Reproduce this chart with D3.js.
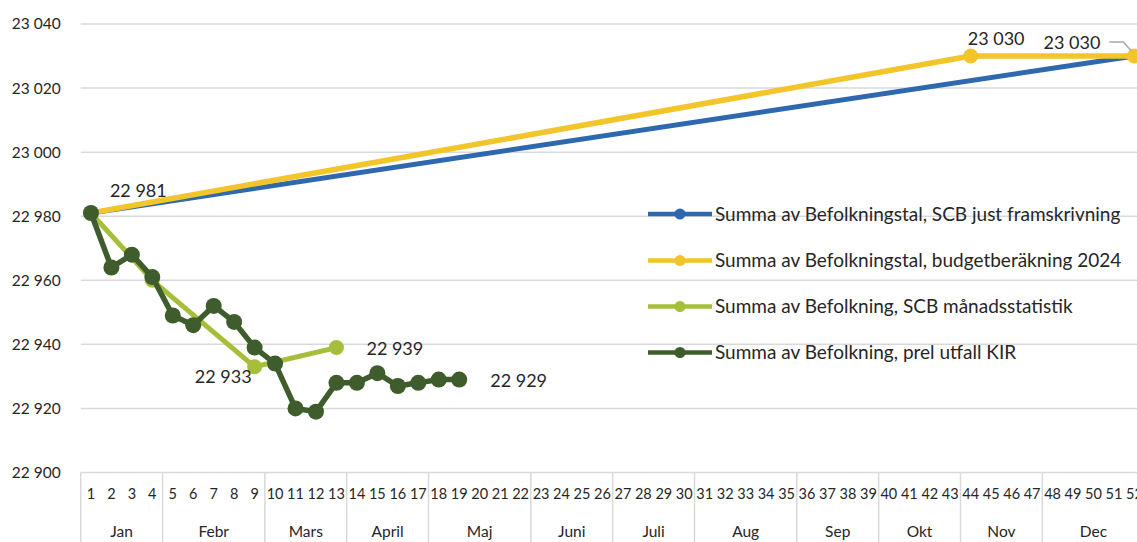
<!DOCTYPE html>
<html>
<head>
<meta charset="utf-8">
<script src="https://cdn.jsdelivr.net/npm/d3@7"></script>
<style>
  html, body { margin: 0; padding: 0; background: #fff; }
  svg { display: block; font-family: Lato, "Open Sans", sans-serif; }
</style>
</head>
<body>
<svg id="chart" width="1137" height="542"></svg>
<script>
// Week categories (1–52) grouped by month
const weeks = [1,2,3,4,5,6,7,8,9,10,11,12,13,14,15,16,17,18,19,20,21,22,23,24,25,26,
               27,28,29,30,31,32,33,34,35,36,37,38,39,40,41,42,43,44,45,46,47,48,49,50,51,52];
const monthNames = ["Jan","Febr","Mars","April","Maj","Juni","Juli","Aug","Sep","Okt","Nov","Dec"];
const monthFirstWeek = [1,5,10,14,18,23,27,31,36,40,44,48];
const monthLastWeek  = [4,9,13,17,22,26,30,35,39,43,47,52];

const yTicks = [22900,22920,22940,22960,22980,23000,23020,23040];

// Series
const seriesNames = [
  "Summa av Befolkningstal, SCB just framskrivning",
  "Summa av Befolkningstal, budgetberäkning 2024",
  "Summa av Befolkning, SCB månadsstatistik",
  "Summa av Befolkning, prel utfall KIR"
];
const seriesColors = ["#2E69B0", "#F2C52A", "#A5BF3A", "#3E5C2C"];

const scbProjWeeks  = [1, 52];
const scbProjValues = [22981, 23030];

const budgetWeeks  = [1, 44, 52];
const budgetValues = [22981, 23030, 23030];

const scbMonthWeeks  = [1, 4, 9, 13];
const scbMonthValues = [22981, 22960, 22933, 22939];

const kirWeeks  = [1,2,3,4,5,6,7,8,9,10,11,12,13,14,15,16,17,18,19];
const kirValues = [22981,22964,22968,22961,22949,22946,22952,22947,22939,22934,
                   22920,22919,22928,22928,22931,22927,22928,22929,22929];

const svg = d3.select("#chart");
const W = 1137, H = 542;

const left = 80.7, bandW = 20.46;
const x = d3.scaleBand().domain(weeks).range([left, left + bandW * weeks.length]).padding(0);
const cx = w => x(w) + x.bandwidth() / 2;
const y = d3.scaleLinear().domain([22900, 23040]).range([472.5, 24]);

const gridColor = "#D9D9D9";
const textColor = "#262626";

// Horizontal gridlines
svg.append("g")
  .selectAll("line")
  .data(yTicks.filter(v => v !== 22900))
  .join("line")
  .attr("x1", left).attr("x2", W)
  .attr("y1", d => y(d)).attr("y2", d => y(d))
  .attr("stroke", gridColor).attr("stroke-width", 1.5);

// Y axis labels
const yAxis = svg.append("g")
  .attr("transform", `translate(${left},0)`)
  .call(d3.axisLeft(y).tickValues(yTicks).tickSize(0).tickPadding(20)
        .tickFormat(d => d3.format(",")(d).replace(",", " ")));
yAxis.select(".domain").remove();
yAxis.selectAll("text")
  .attr("font-family", "Lato, sans-serif")
  .attr("font-size", 15.5).attr("fill", textColor);

// Category box: top line and month separators
const axisY = y(22900);
svg.append("line")
  .attr("x1", left).attr("x2", W)
  .attr("y1", axisY).attr("y2", axisY)
  .attr("stroke", gridColor).attr("stroke-width", 1.5);

svg.append("g")
  .selectAll("line")
  .data(monthFirstWeek)
  .join("line")
  .attr("x1", d => x(d)).attr("x2", d => x(d))
  .attr("y1", axisY).attr("y2", H)
  .attr("stroke", gridColor).attr("stroke-width", 1.5);

// Week labels
const xAxis = svg.append("g")
  .attr("transform", `translate(0,${axisY})`)
  .call(d3.axisBottom(x).tickSize(0).tickPadding(16));
xAxis.select(".domain").remove();
xAxis.selectAll("text")
  .attr("font-family", "Lato, sans-serif")
  .attr("font-size", 14.5).attr("fill", textColor);

// Month labels
svg.append("g")
  .selectAll("text")
  .data(monthNames)
  .join("text")
  .attr("x", (d, i) => (x(monthFirstWeek[i]) + x(monthLastWeek[i]) + x.bandwidth()) / 2)
  .attr("y", 532)
  .attr("dy", "0.35em")
  .attr("text-anchor", "middle")
  .attr("font-size", 15.5).attr("fill", textColor)
  .text(d => d);

// Lines and markers
const line = d3.line().x(d => cx(d[0])).y(d => y(d[1]));
const series = [
  { w: scbProjWeeks,  v: scbProjValues,  color: seriesColors[0], lw: 5,   r: 0 },
  { w: budgetWeeks,   v: budgetValues,   color: seriesColors[1], lw: 5.5, r: 7.5 },
  { w: scbMonthWeeks, v: scbMonthValues, color: seriesColors[2], lw: 5,   r: 7.5 },
  { w: kirWeeks,      v: kirValues,      color: seriesColors[3], lw: 5.5, r: 8 }
];

series.forEach(s => {
  const pts = s.w.map((w, i) => [w, s.v[i]]);
  svg.append("path")
    .datum(pts)
    .attr("d", line)
    .attr("fill", "none")
    .attr("stroke", s.color)
    .attr("stroke-width", s.lw)
    .attr("stroke-linejoin", "round");
  if (s.r > 0) {
    svg.append("g")
      .selectAll("circle")
      .data(pts.filter(p => !(s.color === seriesColors[1] && p[0] === 1)))
      .join("circle")
      .attr("cx", d => cx(d[0])).attr("cy", d => y(d[1]))
      .attr("r", s.r)
      .attr("fill", s.color);
  }
});

// Data labels
const fmt = v => d3.format(",")(v).replace(",", " ");
const labelSize = 18;
function label(xp, yp, txt, anchor) {
  svg.append("text")
    .attr("x", xp).attr("y", yp)
    .attr("dy", "0.35em")
    .attr("text-anchor", anchor)
    .attr("font-size", labelSize)
    .attr("fill", textColor)
    .text(txt);
}
label(cx(budgetWeeks[0]) + 19, y(budgetValues[0]) - 22, fmt(budgetValues[0]), "start");
label(cx(budgetWeeks[1]) - 3, y(budgetValues[1]) - 17, fmt(budgetValues[1]), "start");
label(cx(budgetWeeks[2]) - 34, y(budgetValues[2]) - 13, fmt(budgetValues[2]), "end");
label(cx(scbMonthWeeks[2]) - 3, y(scbMonthValues[2]) + 10, fmt(scbMonthValues[2]), "end");
label(cx(scbMonthWeeks[3]) + 30, y(scbMonthValues[3]) + 1, fmt(scbMonthValues[3]), "start");
label(cx(kirWeeks[kirWeeks.length - 1]) + 31, y(kirValues[kirValues.length - 1]) + 1,
      fmt(kirValues[kirValues.length - 1]), "start");

// Leader line for the last budget label
const lx = cx(budgetWeeks[2]), ly = y(budgetValues[2]);
svg.append("path")
  .attr("d", `M${lx - 25},${ly - 14} L${lx - 11},${ly - 14} L${lx - 3},${ly - 5}`)
  .attr("fill", "none").attr("stroke", "#A6A6A6").attr("stroke-width", 1.5);

// Legend
const legendRows = [214, 260.5, 306.5, 352.5];
const legend = svg.append("g");
seriesNames.forEach((name, i) => {
  const g = legend.append("g").attr("transform", `translate(0,${legendRows[i]})`);
  g.append("line")
    .attr("x1", 648).attr("x2", 712).attr("y1", 0).attr("y2", 0)
    .attr("stroke", seriesColors[i]).attr("stroke-width", 4.5);
  g.append("circle").attr("cx", 680).attr("cy", 0).attr("r", 5.5).attr("fill", seriesColors[i]);
  g.append("text")
    .attr("x", 715).attr("y", 0).attr("dy", "0.35em")
    .attr("font-size", 19).attr("fill", textColor)
    .text(name);
});
</script>
</body>
</html>
